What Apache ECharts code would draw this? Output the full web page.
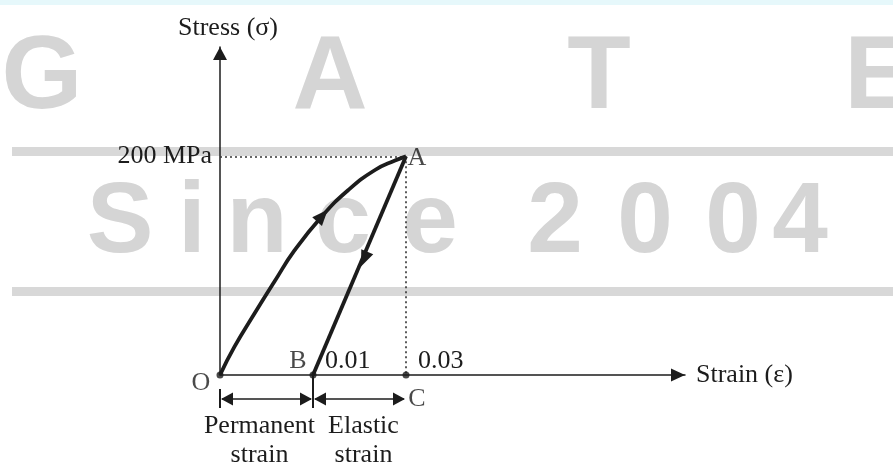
<!DOCTYPE html>
<html><head><meta charset="utf-8">
<script src="https://cdn.jsdelivr.net/npm/echarts@6/dist/echarts.min.js"></script>
<style>html,body{margin:0;padding:0;background:#fff}#c{width:893px;height:466px}</style>
</head><body><div id="c"></div>
<script>
// ---- data (schematic units: strain axis in diagram steps, stress in MPa) ----
const loadingCurve = [[0,0],[0.156,25.9],[0.371,56.2],[0.586,85.5],[0.801,113.9],[1.094,145.0],[1.380,169.2],[1.667,187.5],[1.882,196.2],[2,200]];
const unloadingLine = [[2,200],[1,0]];
const keyPoints = [['O',0,0],['B',1,0],['C',2,0]];
const peakPoint = ['A',2,200];
const xTickValues = [1,2];
const xTickLabels = ['0.01','0.03'];
const yTickValue = 200;
const yTickLabel = '200 MPa';
const dimSegments = [[0,1,'Permanent\nstrain'],[1,2,'Elastic\nstrain']];
const flowArrows = [[1.094,145.0,0.801,113.9,1.380,169.2],[1.554,106.8,2,200,1,0]];
const xName = 'Strain (ε)';
const yName = 'Stress (σ)';

// ---- styles ----
const SERIF = "'Liberation Serif','Times New Roman',serif";
const INK = '#1c1c1c';
const FS = 26;
const labelOffsets = {O:[-19,8], B:[-15,-14], C:[11,24], A:[11,2]};
const dimTextShift = [-7, 4];

const chart = echarts.init(document.getElementById('c'), null, {renderer:'canvas'});

const wm = [];
const wmColor = '#d5d5d5';
[['G',42],['A',330],['T',599],['E',879]].forEach(([t,x]) => wm.push({type:'text', z:-10, silent:true,
  style:{text:t, x:x, y:79, font:"bold 104px 'Liberation Sans',Arial,sans-serif", fill:wmColor, align:'center', verticalAlign:'middle'}}));
[['S',120],['i',192],['n',257],['c',343],['e',430],['2',555],['0',645],['0',733],['4',800]].forEach(([t,x]) => wm.push({type:'text', z:-10, silent:true,
  style:{text:t, x:x, y:224, font:"bold 100px 'Liberation Sans',Arial,sans-serif", fill:wmColor, align:'center', verticalAlign:'middle'}}));
wm.push({type:'rect', z:-9, silent:true, shape:{x:12,y:147,width:881,height:9}, style:{fill:'#d8d8d8'}});
wm.push({type:'rect', z:-9, silent:true, shape:{x:12,y:287,width:881,height:9}, style:{fill:'#d8d8d8'}});
wm.push({type:'rect', z:-9, silent:true, shape:{x:0,y:0,width:893,height:5}, style:{fill:'#e6f8fb'}});

const option = {
  animation:false,
  backgroundColor:'#fff',
  graphic: wm,
  grid:{left:220, top:47, width:465, height:328, containLabel:false},
  xAxis:{
    type:'value', min:0, max:5, interval:1,
    name:xName, nameLocation:'end', nameGap:11,
    nameTextStyle:{fontFamily:SERIF, fontSize:FS, color:INK, verticalAlign:'middle', align:'left'},
    axisLine:{show:true, symbol:['none','triangle'], symbolSize:[13,14], symbolOffset:[0,-7], lineStyle:{color:INK, width:1.5}},
    axisTick:{show:false}, splitLine:{show:false},
    axisLabel:{inside:true, margin:14, align:'left', verticalAlign:'middle', padding:[0,0,0,12],
      fontFamily:SERIF, fontSize:FS, color:INK,
      formatter:v => { const i = xTickValues.indexOf(Math.round(v*1000)/1000); return i>=0 ? xTickLabels[i] : ''; }}
  },
  yAxis:{
    type:'value', min:0, max:300, interval:100,
    name:yName, nameLocation:'end', nameGap:6,
    nameTextStyle:{fontFamily:SERIF, fontSize:FS, color:INK, padding:[0,0,0,16]},
    axisLine:{show:true, symbol:['none','triangle'], symbolSize:[14,13], symbolOffset:[0,-6.5], lineStyle:{color:INK, width:1.5}},
    axisTick:{show:false}, splitLine:{show:false},
    axisLabel:{margin:8, fontFamily:SERIF, fontSize:FS, color:INK,
      formatter:v => v===yTickValue ? yTickLabel : ''}
  },
  series:[
    {type:'line', data:loadingCurve, smooth:true, symbol:'none', z:5,
     lineStyle:{color:INK, width:3.8}},
    {type:'line', data:unloadingLine, symbol:'none', z:5,
     lineStyle:{color:INK, width:3.8},
     markLine:{silent:true, symbol:['none','none'], label:{show:false},
       lineStyle:{color:'#333', width:1.6, type:[2,3]},
       data:[[{coord:[0,peakPoint[2]]},{coord:[peakPoint[1],peakPoint[2]]}],
             [{coord:[peakPoint[1],peakPoint[2]]},{coord:[peakPoint[1],0]}]]}},
    {type:'scatter', z:6, symbolSize:7, itemStyle:{color:INK},
     data:keyPoints.map(p => ({name:p[0], value:[p[1],p[2]]})),
     label:{show:true, position:'inside', fontFamily:SERIF, fontSize:FS, color:INK,
       formatter:p => p.name}},
    {type:'scatter', z:6, symbolSize:0,
     data:[{name:peakPoint[0], value:[peakPoint[1],peakPoint[2]]}],
     label:{show:true, position:'inside', offset:labelOffsets.A, fontFamily:SERIF, fontSize:FS, color:INK, formatter:p=>p.name}},
    {type:'custom', z:7, clip:false, data:flowArrows,
     renderItem:(params, api) => {
       const p = api.coord([api.value(0), api.value(1)]);
       const a = api.coord([api.value(2), api.value(3)]);
       const b = api.coord([api.value(4), api.value(5)]);
       let dx=b[0]-a[0], dy=b[1]-a[1]; const L=Math.hypot(dx,dy); dx/=L; dy/=L;
       const nx=-dy, ny=dx, f=9, r=7, w=6.5;
       return {type:'polygon', shape:{points:[[p[0]+dx*f,p[1]+dy*f],[p[0]-dx*r+nx*w,p[1]-dy*r+ny*w],[p[0]-dx*r-nx*w,p[1]-dy*r-ny*w]]},
         style:{fill:INK}};
     }},
    {type:'custom', z:7, clip:false, data:dimSegments.map(d=>[d[0],d[1]]),
     renderItem:(params, api) => {
       const i = params.dataIndex;
       const p0 = api.coord([api.value(0),0]);
       const p1 = api.coord([api.value(1),0]);
       const y = p0[1]+24, h=6.5, L=13;
       const ch = [
         {type:'line', shape:{x1:p0[0]+2,y1:y,x2:p1[0]-2,y2:y}, style:{stroke:INK, lineWidth:1.5}},
         {type:'polygon', shape:{points:[[p0[0]+1,y],[p0[0]+L,y-h],[p0[0]+L,y+h]]}, style:{fill:INK}},
         {type:'polygon', shape:{points:[[p1[0]-1,y],[p1[0]-L,y-h],[p1[0]-L,y+h]]}, style:{fill:INK}},
         {type:'text', style:{text:dimSegments[i][2], x:(p0[0]+p1[0])/2+dimTextShift[i], y:p0[1]+65.5,
           align:'center', verticalAlign:'middle', font:FS+'px '+SERIF, fill:INK, lineHeight:29}}
       ];
       if (i===0) {
         ch.push({type:'line', shape:{x1:p0[0],y1:p0[1]+14,x2:p0[0],y2:p0[1]+33}, style:{stroke:INK, lineWidth:2}});
         ch.push({type:'line', shape:{x1:p1[0],y1:p1[1],x2:p1[0],y2:p1[1]+33}, style:{stroke:INK, lineWidth:2}});
       }
       return {type:'group', children:ch};
     }}
  ]
};
option.series[2].data.forEach(d => { d.label = {offset: labelOffsets[d.name]}; });
chart.setOption(option);
</script></body></html>
